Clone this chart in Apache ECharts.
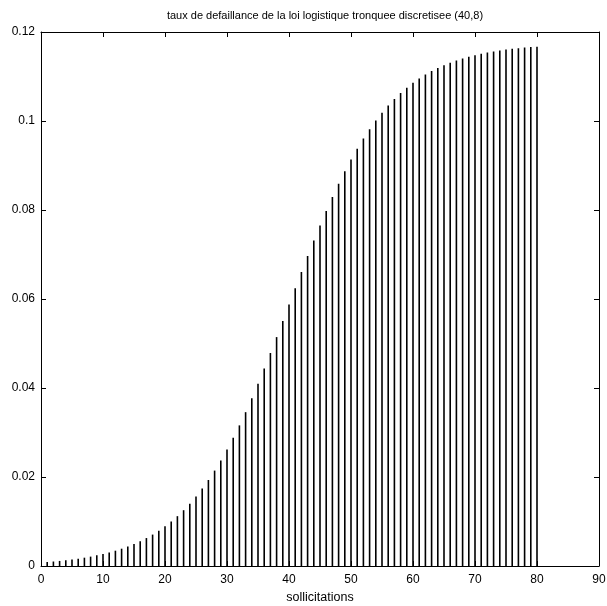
<!DOCTYPE html>
<html>
<head>
<meta charset="utf-8">
<script src="https://cdn.jsdelivr.net/npm/echarts@6/dist/echarts.min.js"></script>
<style>html,body{margin:0;padding:0;background:#fff;}#c{width:607px;height:606px;}</style>
</head>
<body>
<div id="c"></div>
<script>
const titleText = 'taux de defaillance de la loi logistique tronquee discretisee (40,8)';
const xLabel = 'sollicitations';
const xs = [];
for (let k = 1; k <= 80; k++) xs.push(k);
const rates = [
0.00089,0.00101,0.00114,0.00129,0.00146,0.00165,0.00187,0.00211,0.00239,0.00270,
0.00305,0.00344,0.00389,0.00439,0.00495,0.00557,0.00628,0.00706,0.00794,0.00891,
0.01000,0.01120,0.01254,0.01401,0.01562,0.01740,0.01933,0.02144,0.02371,0.02617,
0.02880,0.03160,0.03457,0.03770,0.04097,0.04436,0.04786,0.05144,0.05508,0.05875,
0.06242,0.06606,0.06964,0.07314,0.07653,0.07980,0.08293,0.08590,0.08870,0.09133,
0.09379,0.09606,0.09817,0.10010,0.10188,0.10349,0.10496,0.10630,0.10750,0.10859,
0.10956,0.11044,0.11122,0.11193,0.11255,0.11311,0.11361,0.11405,0.11445,0.11480,
0.11511,0.11539,0.11564,0.11586,0.11604,0.11621,0.11636,0.11649,0.11661,0.11671
];
const xTicks = [0,10,20,30,40,50,60,70,80,90];
const yTicks = [0,0.02,0.04,0.06,0.08,0.1,0.12];

const data = xs.map((x, i) => [x, rates[i]]);
const font = 'Liberation Sans, Arial, sans-serif';
const chart = echarts.init(document.getElementById('c'), null, {renderer: 'canvas'});
const axLine = {show: true, onZero: false, lineStyle: {color: '#000', width: 1}};
const tick = {show: true, inside: true, length: 5, lineStyle: {color: '#000', width: 1}};
chart.setOption({
  animation: false,
  backgroundColor: '#fff',
  title: {
    text: titleText, left: 320, top: 5, textAlign: 'center',
    textStyle: {fontFamily: font, fontSize: 11, fontWeight: 'normal', color: '#000'}
  },
  grid: {left: 41, right: 8, top: 32, bottom: 40, containLabel: false, outerBoundsMode: 'none'},
  xAxis: [{
    type: 'value', min: 0, max: 90, interval: 10, position: 'bottom',
    name: xLabel, nameLocation: 'middle', nameGap: 25, nameMoveOverlap: false,
    nameTextStyle: {fontFamily: font, fontSize: 12.5, color: '#000'},
    axisLine: axLine, axisTick: tick, splitLine: {show: false},
    axisLabel: {fontFamily: font, fontSize: 12, color: '#000', margin: 8,
      formatter: v => xTicks.includes(v) ? String(v) : ''}
  }, {
    type: 'value', min: 0, max: 90, interval: 10, position: 'top',
    axisLine: axLine, axisTick: tick, splitLine: {show: false}, axisLabel: {show: false}
  }],
  yAxis: [{
    type: 'value', min: 0, max: 0.12, interval: 0.02, position: 'left',
    axisLine: axLine, axisTick: tick, splitLine: {show: false},
    axisLabel: {fontFamily: font, fontSize: 12, color: '#000', margin: 6,
      formatter: v => { const t = yTicks.find(y => Math.abs(y - v) < 1e-9); return t === undefined ? '' : String(+t.toFixed(2)); }}
  }, {
    type: 'value', min: 0, max: 0.12, interval: 0.02, position: 'right',
    axisLine: axLine, axisTick: tick, splitLine: {show: false}, axisLabel: {show: false}
  }],
  series: [{
    type: 'custom',
    xAxisIndex: 0, yAxisIndex: 0,
    data: data,
    renderItem: function (params, api) {
      const top = api.coord([api.value(0), api.value(1)]);
      const base = api.coord([api.value(0), 0]);
      return {
        type: 'line',
        shape: {x1: top[0], y1: top[1], x2: base[0], y2: base[1]},
        style: {stroke: '#000', lineWidth: 1.6}
      };
    }
  }]
});
</script>
</body>
</html>
